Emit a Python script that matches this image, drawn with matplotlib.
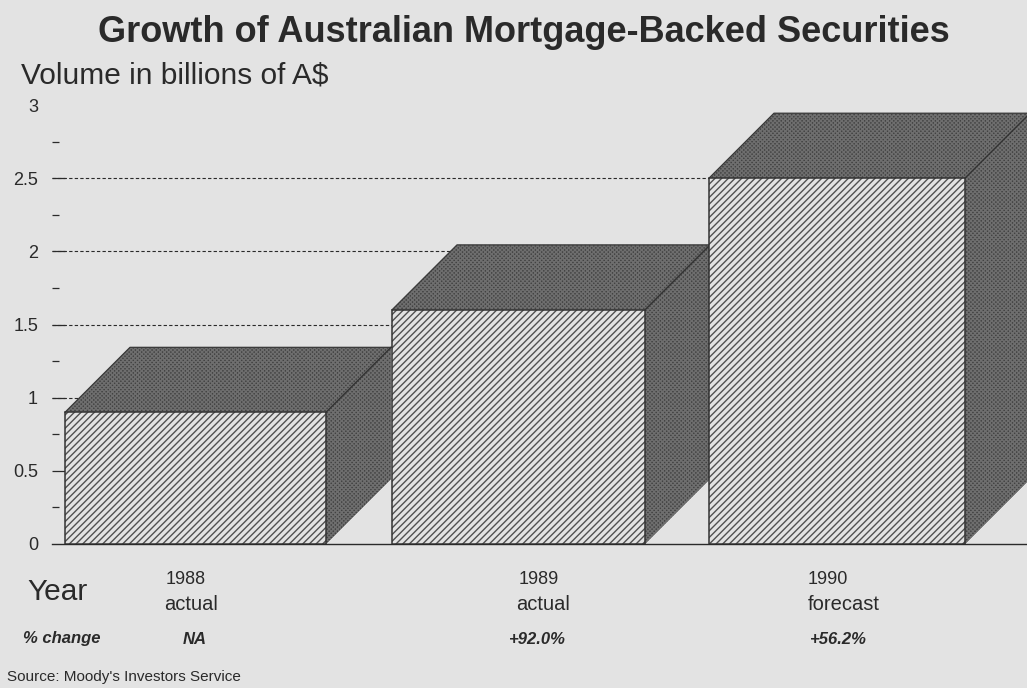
import matplotlib
matplotlib.use("Agg")
import matplotlib.pyplot as plt
from matplotlib.patches import Polygon, Rectangle

# Mortgage-backed securities volume, billions of A$
years = ["1988", "1989", "1990"]
status = ["actual", "actual", "forecast"]
volume = [0.9, 1.6, 2.5]
pct_change = ["NA", "+92.0%", "+56.2%"]
major_ticks = [0, 0.5, 1, 1.5, 2, 2.5, 3]
major_labels = ["0", "0.5", "1", "1.5", "2", "2.5", "3"]
minor_ticks = [0.25, 0.75, 1.25, 1.75, 2.25, 2.75]
grid_levels = [1, 1.5, 2, 2.5]

W, H = 1027, 688
BG = "#e3e3e3"
INK = "#2a2a2a"

# bar layout, x in pixels (the x axis has no scale of its own)
bar_left = [65, 392, 709]
bar_right = [326, 645, 965]
depth_x = 65
depth_y = 65 / 146.4

plt.rcParams["font.family"] = ["Liberation Sans", "DejaVu Sans"]
plt.rcParams["hatch.linewidth"] = 1.0

fig = plt.figure(figsize=(W / 100, H / 100), dpi=100, facecolor=BG)
ax = fig.add_axes([52 / W, (H - 544) / H, (W - 52) / W, (544 - 105) / H], facecolor=BG)
ax.set_xlim(52, W)
ax.set_ylim(0, 3)

for s in ["top", "left", "right"]:
    ax.spines[s].set_visible(False)
ax.spines["bottom"].set_color(INK)
ax.spines["bottom"].set_linewidth(1.0)
ax.set_xticks([])
ax.set_yticks(major_ticks)
ax.set_yticklabels(major_labels, fontsize=13, color=INK)
ax.set_yticks(minor_ticks, minor=True)
ax.tick_params(axis="y", which="major", direction="in", length=9.4, width=0.9, color=INK, pad=10)
ax.tick_params(axis="y", which="minor", direction="in", length=5, width=0.9, color=INK)
ax.yaxis.get_major_ticks()[0].tick1line.set_visible(False)
ax.yaxis.get_major_ticks()[-1].tick1line.set_visible(False)

# dashed reference lines run behind the bars
ax.hlines(grid_levels, 52, W, colors=INK, linestyles=(0, (3, 2)), linewidth=0.8, zorder=1)

for i, v in enumerate(volume):
    x0, x1 = bar_left[i], bar_right[i]
    z = 3 + i
    side = Polygon([(x1, 0), (x1 + depth_x, depth_y), (x1 + depth_x, v + depth_y), (x1, v)],
                   facecolor="#424242", edgecolor="#6e6e6e", hatch="xxxxxxxx", linewidth=0, zorder=z)
    top = Polygon([(x0, v), (x0 + depth_x, v + depth_y), (x1 + depth_x, v + depth_y), (x1, v)],
                  facecolor="#424242", edgecolor="#6e6e6e", hatch="xxxxxxxx", linewidth=0, zorder=z)
    ax.add_patch(side)
    ax.add_patch(top)
    # face with diagonal stripes
    ax.add_patch(Rectangle((x0, 0), x1 - x0, v, facecolor="#e2e2e2", edgecolor="#505050",
                           hatch="/////", linewidth=0, zorder=z))
    ax.add_patch(Rectangle((x0, 0), x1 - x0, v, fill=False, edgecolor="#333333",
                           linewidth=1.1, zorder=z + 0.5))
    # outline of the dark faces
    ax.plot([x0, x0 + depth_x, x1 + depth_x], [v, v + depth_y, v + depth_y], color="#3a3a3a",
            linewidth=0.9, zorder=z + 0.2)
    ax.plot([x1, x1 + depth_x], [v, v + depth_y], color="#333333", linewidth=1.0, zorder=z + 0.2)


def label(x, y, s, **kw):
    # text placed in pixel coordinates, y measured from the top
    fig.text(x / W, 1 - y / H, s, color=INK, va="center", **kw)


label(524, 32, "Growth of Australian Mortgage-Backed Securities", ha="center", fontsize=26, fontweight="bold")
label(21, 76, "Volume in billions of A$", ha="left", fontsize=21.5)
label(27, 592, "Year", ha="left", fontsize=21.5)
label(23, 639, "% change", ha="left", fontsize=12, fontweight="bold", fontstyle="italic")
label(7, 677, "Source: Moody's Investors Service", ha="left", fontsize=11)

year_x = [186, 539, 828]
status_x = [191, 543, 844]
change_x = [195, 537, 838]
for i in range(3):
    label(year_x[i], 579, years[i], ha="center", fontsize=13)
    label(status_x[i], 605, status[i], ha="center", fontsize=14.5)
    label(change_x[i], 639, pct_change[i], ha="center", fontsize=12, fontweight="bold", fontstyle="italic")

fig.savefig("out.png", dpi=100, facecolor=BG)
